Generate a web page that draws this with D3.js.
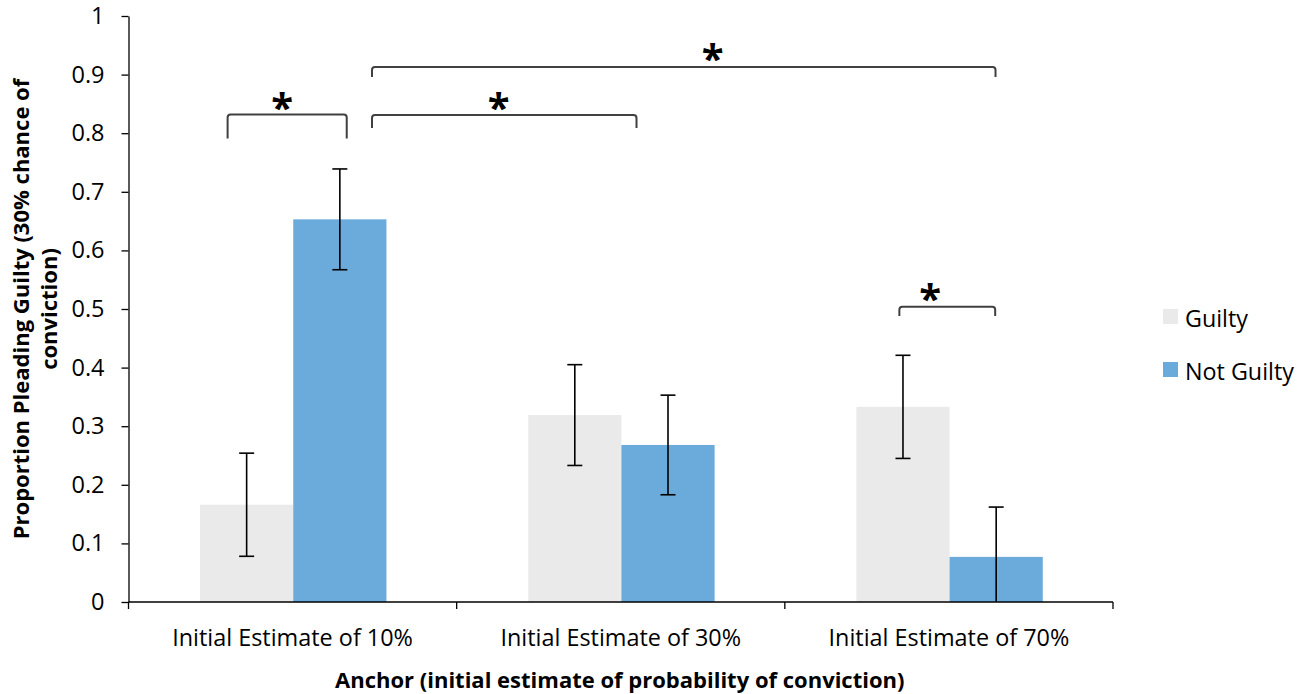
<!DOCTYPE html>
<html>
<head>
<meta charset="utf-8">
<script src="https://cdn.jsdelivr.net/npm/d3@7"></script>
<style>
  body { margin: 0; background: #fff; }
  text { font-family: "Open Sans", sans-serif; fill: #000; }
</style>
</head>
<body>
<div id="chart"></div>
<script>
// DATA
const categories = ["Initial Estimate of 10%", "Initial Estimate of 30%", "Initial Estimate of 70%"];
const seriesNames = ["Guilty", "Not Guilty"];
const guiltyValues = [0.166, 0.319, 0.333];
const guiltyErrors = [0.088, 0.086, 0.088];
const notGuiltyValues = [0.653, 0.268, 0.077];
const notGuiltyErrors = [0.086, 0.085, 0.085];
const yTicks = [0, 0.1, 0.2, 0.3, 0.4, 0.5, 0.6, 0.7, 0.8, 0.9, 1];
const seriesColors = ["#eaeaea", "#6babdb"];

// significance brackets: [category index, fraction of band] for both ends, y top, y of legs, star position
const brackets = [
  { from: [0, 0.302], to: [0, 0.665], top: 0.832, leg: 0.791, star: [0, 0.468, 0.858] },
  { from: [0, 0.742], to: [1, 0.548], top: 0.831, leg: 0.809, star: [1, 0.128, 0.858] },
  { from: [0, 0.742], to: [2, 0.642], top: 0.913, leg: 0.896, star: [1, 0.78, 0.942] },
  { from: [2, 0.349], to: [2, 0.641], top: 0.504, leg: 0.488, star: [2, 0.443, 0.532] }
];

// MARGIN, WIDTH, HEIGHT
const svgWidth = 1309;
const svgHeight = 694;
const margin = { top: 16, right: 196, bottom: 92, left: 128.5 };
const width = svgWidth - margin.left - margin.right;
const height = svgHeight - margin.top - margin.bottom;

const svg = d3.select("#chart")
  .append("svg")
  .attr("width", svgWidth)
  .attr("height", svgHeight);

const g = svg.append("g")
  .attr("transform", `translate(${margin.left},${margin.top})`);

// SCALES
const xScale = d3.scaleBand().domain(d3.range(categories.length)).range([0, width]).padding(0);
const bw = xScale.bandwidth();
const xInner = d3.scaleBand().domain([0, 1]).range([bw * 0.218, bw * 0.786]).padding(0);
const yScale = d3.scaleLinear().domain([0, 1]).range([height, 0]);

const rows = categories.map((c, i) => [
  { s: 0, i, v: guiltyValues[i], e: guiltyErrors[i] },
  { s: 1, i, v: notGuiltyValues[i], e: notGuiltyErrors[i] }
]).flat();

// BARS
g.selectAll(".bar")
  .data(rows)
  .enter()
  .append("rect")
  .attr("class", "bar")
  .attr("x", d => xScale(d.i) + xInner(d.s))
  .attr("y", d => yScale(d.v))
  .attr("width", xInner.bandwidth())
  .attr("height", d => yScale(0) - yScale(d.v))
  .attr("fill", d => seriesColors[d.s]);

// Y AXIS
const yAxis = d3.axisLeft(yScale)
  .tickValues(yTicks)
  .tickFormat(d => d3.format("")(+d.toFixed(1)))
  .tickSize(7)
  .tickSizeOuter(0)
  .tickPadding(17);

const yG = g.append("g").call(yAxis);
yG.select(".domain").attr("stroke", "#000").attr("stroke-width", 1.3);
yG.selectAll(".tick line").attr("stroke", "#000").attr("stroke-width", 1.3);
yG.selectAll(".tick text")
  .style("font-family", "'Open Sans', sans-serif")
  .style("font-size", "23.5px")
  .attr("fill", "#000");

// X AXIS (line + boundary ticks)
const xG = g.append("g").attr("transform", `translate(0,${height})`);
xG.append("line")
  .attr("x1", 0).attr("x2", width)
  .attr("stroke", "#000").attr("stroke-width", 1.3);
const bounds = categories.map((c, i) => xScale(i)).concat([width]);
xG.selectAll(".xtick")
  .data(bounds)
  .enter()
  .append("line")
  .attr("x1", d => d).attr("x2", d => d)
  .attr("y1", 0).attr("y2", 7)
  .attr("stroke", "#000").attr("stroke-width", 1.3);
xG.selectAll(".xlabel")
  .data(categories)
  .enter()
  .append("text")
  .attr("x", (d, i) => xScale(i) + bw / 2)
  .attr("y", 44)
  .attr("text-anchor", "middle")
  .style("font-size", "23.4px")
  .text(d => d);

// ERROR BARS
const errG = g.append("g").attr("stroke", "#000").attr("stroke-width", 1.6);
rows.forEach(d => {
  const cx = xScale(d.i) + xInner(d.s) + xInner.bandwidth() / 2;
  const lo = Math.max(0, d.v - d.e);
  const hi = d.v + d.e;
  errG.append("line").attr("x1", cx).attr("x2", cx).attr("y1", yScale(lo)).attr("y2", yScale(hi));
  errG.append("line").attr("x1", cx - 7.5).attr("x2", cx + 7.5).attr("y1", yScale(hi)).attr("y2", yScale(hi));
  if (lo > 0) {
    errG.append("line").attr("x1", cx - 7.5).attr("x2", cx + 7.5).attr("y1", yScale(lo)).attr("y2", yScale(lo));
  }
});

// SIGNIFICANCE BRACKETS
const bx = p => xScale(p[0]) + p[1] * bw;
brackets.forEach(b => {
  const x1 = bx(b.from), x2 = bx(b.to);
  const yt = yScale(b.top), yl = yScale(b.leg);
  g.append("path")
    .attr("d", `M${x1},${yl} L${x1},${yt + 3} Q${x1},${yt} ${x1 + 3},${yt} L${x2 - 3},${yt} Q${x2},${yt} ${x2},${yt + 3} L${x2},${yl}`)
    .attr("fill", "none")
    .attr("stroke", "#404040")
    .attr("stroke-width", 2);
  g.append("text")
    .attr("x", bx(b.star))
    .attr("y", yScale(b.star[2]) + 23)
    .attr("text-anchor", "middle")
    .style("font-size", "40px")
    .style("font-weight", "bold")
    .text("*");
});

// AXIS TITLES
svg.append("text")
  .attr("x", margin.left + width / 2 - 1)
  .attr("y", 688)
  .attr("text-anchor", "middle")
  .style("font-size", "22px")
  .style("font-weight", "bold")
  .text("Anchor (initial estimate of probability of conviction)");

const yTitle = svg.append("text")
  .attr("transform", `translate(29,${margin.top + height / 2}) rotate(-90)`)
  .attr("text-anchor", "middle")
  .style("font-size", "22px")
  .style("font-weight", "bold");
yTitle.append("tspan").attr("x", 0).attr("y", 0).text("Proportion Pleading Guilty (30% chance of");
yTitle.append("tspan").attr("x", 0).attr("y", 28).text("conviction)");

// LEGEND
const legend = svg.append("g").attr("transform", "translate(1163,309)");
const items = legend.selectAll(".legend-item")
  .data(seriesNames)
  .enter()
  .append("g")
  .attr("class", "legend-item")
  .attr("transform", (d, i) => `translate(0,${i * 53})`);
items.append("rect")
  .attr("width", 15).attr("height", 15)
  .attr("fill", (d, i) => seriesColors[i]);
items.append("text")
  .attr("x", 22)
  .attr("y", 18)
  .style("font-size", "23.3px")
  .text(d => d);
</script>
</body>
</html>
